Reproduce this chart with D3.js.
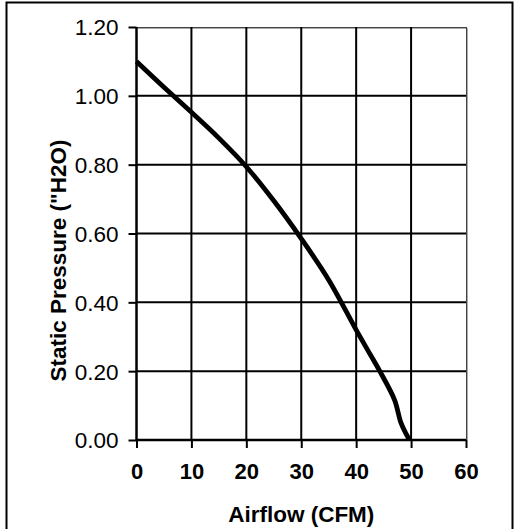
<!DOCTYPE html>
<html>
<head>
<meta charset="utf-8">
<script src="https://cdn.jsdelivr.net/npm/d3@7"></script>
<style>
html,body{margin:0;padding:0;background:#fff;}
svg{display:block;}
</style>
</head>
<body>
<svg id="chart" width="517" height="529"></svg>
<script>
// Data
const airflow = [0, 5, 10, 15, 20, 25, 30, 35, 40, 42, 44.3, 47.0, 48.2, 49.7];
const pressure = [1.10, 1.025, 0.952, 0.877, 0.794, 0.695, 0.585, 0.465, 0.32, 0.264, 0.20, 0.116, 0.048, 0.0];
const xTicks = [0, 10, 20, 30, 40, 50, 60];
const yTicks = [0, 0.2, 0.4, 0.6, 0.8, 1.0, 1.2];
const xTitle = "Airflow (CFM)";
const yTitle = "Static Pressure (\"H2O)";

const svg = d3.select("#chart");
const L = 136.5, R = 466, T = 27, B = 440;
const x = d3.scaleLinear().domain([0, 60]).range([L, R]);
const y = d3.scaleLinear().domain([0, 1.2]).range([B, T]);
const FONT = "Liberation Sans, Arial, sans-serif";

// Outer frame
svg.append("rect").attr("x", 6.5).attr("y", 2.5).attr("width", 506).attr("height", 530)
  .attr("fill", "none").attr("stroke", "#000").attr("stroke-width", 2);

// Plot border (thin with shadow)
svg.append("line").attr("x1", L).attr("x2", R + 1).attr("y1", T + 1.5).attr("y2", T + 1.5)
  .attr("stroke", "#aaa").attr("stroke-width", 1);
svg.append("line").attr("x1", R + 1.5).attr("x2", R + 1.5).attr("y1", T + 1).attr("y2", B)
  .attr("stroke", "#aaa").attr("stroke-width", 1);
svg.append("line").attr("x1", L).attr("x2", R).attr("y1", T + 0.5).attr("y2", T + 0.5)
  .attr("stroke", "#444").attr("stroke-width", 1);
svg.append("line").attr("x1", R + 0.5).attr("x2", R + 0.5).attr("y1", T).attr("y2", B)
  .attr("stroke", "#444").attr("stroke-width", 1);

// Grid
const g = svg.append("g");
g.selectAll(".vg").data(xTicks.filter(d => d > 0 && d < 60)).enter().append("line")
  .attr("x1", d => x(d)).attr("x2", d => x(d)).attr("y1", T).attr("y2", B)
  .attr("stroke", "#000").attr("stroke-width", 2);
g.selectAll(".hg").data(yTicks.filter(d => d > 0 && d < 1.2)).enter().append("line")
  .attr("x1", L).attr("x2", R).attr("y1", d => y(d)).attr("y2", d => y(d))
  .attr("stroke", "#000").attr("stroke-width", 2);

// Axes
const yAxis = d3.axisLeft(y).tickValues(yTicks).tickSize(8).tickFormat(d3.format(".2f"));
const yg = svg.append("g").attr("transform", `translate(${L},0)`).call(yAxis);
yg.select(".domain").attr("stroke", "#000").attr("stroke-width", 2.5).attr("d", `M0,${T}V${B}`);
yg.selectAll(".tick line").attr("stroke", "#000").attr("stroke-width", 2);
yg.selectAll(".tick text").attr("x", -18).attr("dy", "0.35em")
  .attr("font-family", FONT).attr("font-size", 22.5).attr("fill", "#000");

const xAxis = d3.axisBottom(x).tickValues(xTicks).tickSize(8).tickFormat(d3.format("d"));
const xg = svg.append("g").attr("transform", `translate(0,${B})`).call(xAxis);
xg.select(".domain").attr("stroke", "#000").attr("stroke-width", 2.5).attr("d", `M${L},0H${R}`);
xg.selectAll(".tick line").attr("stroke", "#000").attr("stroke-width", 2);
xg.selectAll(".tick text").attr("y", 31).attr("dy", "0.35em")
  .attr("font-family", FONT).attr("font-weight", "bold")
  .attr("font-size", 22).attr("fill", "#000");

// Curve
const pts = airflow.map((a, i) => [a, pressure[i]]);
const line = d3.line().x(d => x(d[0])).y(d => y(d[1])).curve(d3.curveCatmullRom.alpha(0.5));
svg.append("path").datum(pts).attr("d", line).attr("fill", "none")
  .attr("stroke", "#000").attr("stroke-width", 4.8).attr("stroke-linejoin", "round");

// Titles
svg.append("text").attr("x", (L + R) / 2).attr("y", 522).attr("text-anchor", "middle")
  .attr("font-family", FONT).attr("font-weight", "bold")
  .attr("font-size", 22.5).text(xTitle);
svg.append("text").attr("transform", `translate(66,${(T + B) / 2 + 27}) rotate(-90)`)
  .attr("text-anchor", "middle")
  .attr("font-family", FONT).attr("font-weight", "bold")
  .attr("font-size", 22.5).text(yTitle);
</script>
</body>
</html>
